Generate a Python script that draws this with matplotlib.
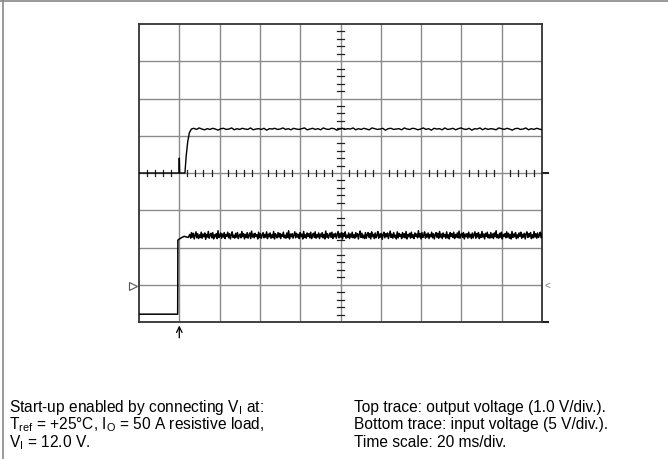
import matplotlib
matplotlib.use("Agg")
import matplotlib.pyplot as plt
from matplotlib.lines import Line2D
import numpy as np

plt.rcParams["font.family"] = ["Liberation Sans", "DejaVu Sans"]
plt.rcParams["mathtext.fontset"] = "custom"
plt.rcParams["mathtext.rm"] = "Liberation Sans"

# screen is 10 x 8 divisions (20 ms/div horizontally)
n_xdiv = 10
n_ydiv = 8

# top trace (output voltage, 1.0 V/div), in divisions
top_edge_t = [0.0, 0.99, 1.0, 1.01, 1.14, 1.17, 1.21, 1.25, 1.30]
top_edge_v = [4.0, 4.0, 4.4, 4.0, 4.0, 4.45, 4.85, 5.08, 5.18]
top_level = 5.18
top_t_end = 10.0
# ripple on the settled output, hundredths of a division
top_ripple = [2, -1, 3, 0, -2, 1, -1, 2, 0, -3, 1, 2, -1, 0, 3, -2, 1, -1, 2, 0,
              -1, 3, -2, 0, 1, -1, 2, -3, 1, 0, 2, -1, 0, 3, -1, 1, -2, 2, 0, -1,
              1, 3, -2, 0, 2, -1, 1, -2, 3, 0, -1, 2, 1, -3, 0, 2, -1, 1, 0, 3,
              -2, 1, -1, 2, 0, -2, 3, 1, -1, 0, 2, -3, 1, 2, -1, 0, 1, -2, 3, 0,
              -1, 2, 1, -2, 0, 3, -1, 1, -3, 2, 0, 1, -2, 3, -1, 0, 2, -2, 1, 3,
              0, -1, 2, -3, 1, 0, 3, -2, 2, -1, 1, 0, -2, 3, 1, -1, 2, 0, -3, 1,
              2, -1, 0, 3, -2, 1, -1, 2, 0, -2]

# bottom trace (input voltage, 5 V/div), in divisions
bottom_edge_t = [0.0, 0.96, 0.965, 0.99, 1.05, 1.12, 1.22]
bottom_edge_v = [0.21, 0.21, 2.2, 2.22, 2.26, 2.3, 2.27]
bottom_level = 2.31
bottom_t_end = 10.0
bottom_ripple = [4, -6, 9, -3, 7, -8, 2, 11, -5, 6, -7, 3, -4, 10, -6, 5, -2, 8, -9, 4,
                 -3, 12, -6, 2, 7, -5, 9, -8, 3, -2, 6, -7, 14, -4, 1, 8, -6, 5, -3, 9,
                 -7, 4, -1, 10, -5, 6, -8, 3, 11, -4, 2, -6, 7, -3, 9, -7, 1, 5, -5, 12,
                 -2, 6, -8, 4, -4, 9, -6, 2, 8, -7, 13, -3, 5, -5, 7, -1, 3, -8, 10, -4,
                 6, -6, 2, 9, -5, 4, -3, 11, -7, 5, -2, 8, -6, 3, -4, 12, -8, 6, 1, -5,
                 9, -3, 7, -7, 4, -1, 10, -5, 2, -6, 8, -4, 14, -8, 5, -2, 6, -6, 3, 11,
                 -5, 7, -3, 4, -7, 9, -2, 5, -8, 12, -4, 3, -6, 8, -1, 6, -5, 10, -7, 2,
                 7, -4, 11, -6, 3, -3, 8, -7, 5, -2, 9, -5, 4, -8, 13, -3, 6, -6, 2, 8,
                 -4, 10, -7, 5, -2, 7, -6, 3, 12, -5, 4, -3, 9, -8, 6, -1, 11, -6, 2, -4,
                 8, -7, 5, -3, 10, -5, 3, -6, 9, -2, 6, -8, 4, 13, -4, 7, -5, 2, -7, 9,
                 -6, 3, 9, -4, 6, -8, 11, -2, 4, -7, 8, -5, 2, 12, -6, 5, -3, 7, -9, 3,
                 10, -5, 6, -2, 8, -7, 3, 13, -4, 5, -6, 9, -3, 2, -8, 11, -5, 7, -1, 4,
                 -7, 9, -3, 6, -5, 12, -8, 4, -2, 7, -6, 10, -4, 3, -7, 8, -1, 5, -5, 14,
                 -3, 6, -8, 9, -4, 2, 11, -6, 5, -3, 8, -7, 4, -2, 10, -5, 6, -8, 3, 9,
                 -4, 7, -6, 12, -3, 5, -7, 8, -2, 4, -6, 11, -5, 3, -8, 9, -1, 6, -4, 10,
                 -7, 4, -3, 8, -5, 13, -6, 2, 7, -4, 9, -8, 5, -2, 6, -6, 10, -3, 4, -7,
                 8, -5, 3, 11, -6, 6, -2, 9, -7, 4, -4, 12, -3, 5, -8, 7, -1, 10, -5, 3,
                 -6, 9, -4, 5, -7, 8, -2, 14, -5, 3, -6, 7, -3, 10, -8, 4, -1, 6, -5, 11,
                 -3, 7, -6, 4, -8, 12, -4, 5, -2, 9, -7, 3, -5, 8, -1, 10, -6, 4, -3, 7,
                 -8, 5, 11, -4, 6, -2, 9, -7, 3, -5, 12, -3, 6, -6, 8, -4, 2, 10, -5, 6]

trigger_t = 1.0
ground_marker = 0.96

left_notes = ["Start-up enabled by connecting V$_\\mathrm{I}$ at:",
              "T$_\\mathrm{ref}$ = +25\u00b0C, I$_\\mathrm{O}$ = 50 A resistive load,",
              "V$_\\mathrm{I}$ = 12.0 V."]
right_notes = ["Top trace: output voltage (1.0 V/div.).",
               "Bottom trace: input voltage (5 V/div.).",
               "Time scale: 20 ms/div."]


fig = plt.figure(figsize=(6.68, 4.59), dpi=100)
W, H = 668, 459
ax = fig.add_axes([139 / W, 1 - 322 / H, 403 / W, 298 / H])
ax.set_xlim(0, n_xdiv)
ax.set_ylim(0, n_ydiv)
ax.set_xticks([])
ax.set_yticks([])
for s in ax.spines.values():
    s.set_color("#333333")
    s.set_linewidth(1.3)

gridc = "#8a8a8a"
for i in range(1, n_xdiv):
    ax.axvline(i, color=gridc, lw=1.0, zorder=1)
for j in range(1, n_ydiv):
    ax.axhline(j, color=gridc, lw=1.0, zorder=1)

# small tick marks along the centre lines
for x in np.arange(0.2, n_xdiv, 0.2):
    if abs(x - round(x)) > 0.05:
        ax.plot([x, x], [n_ydiv / 2 - 0.08, n_ydiv / 2 + 0.08], color="#222222", lw=0.9, zorder=2)
for y in np.arange(0.2, n_ydiv, 0.2):
    if abs(y - round(y)) > 0.05:
        ax.plot([n_xdiv / 2 - 0.075, n_xdiv / 2 + 0.075], [y, y], color="#222222", lw=0.9, zorder=2)

# traces
top_t = np.concatenate([top_edge_t, np.linspace(top_edge_t[-1] + 0.06, top_t_end, len(top_ripple))])
top_v = np.concatenate([top_edge_v, top_level + np.array(top_ripple) / 100.0])
ax.plot(top_t, top_v, color="black", lw=1.0, zorder=3)

bot_t = np.concatenate([bottom_edge_t, np.linspace(bottom_edge_t[-1] + 0.04, bottom_t_end, len(bottom_ripple))])
bot_v = np.concatenate([bottom_edge_v, bottom_level + np.array(bottom_ripple) / 100.0])
ax.plot(bot_t, bot_v, color="black", lw=1.1, zorder=3)

# scope markers
ax.annotate("", xy=(trigger_t, -0.02), xytext=(trigger_t, -0.5),
            arrowprops=dict(arrowstyle="->", color="black", lw=0.9), annotation_clip=False)
ax.plot([-0.15], [ground_marker], marker=">", ms=6, mfc="white", mec="#555555", mew=0.8, clip_on=False)
ax.text(10.05, ground_marker, "<", fontsize=7, color="#777777", va="center", ha="left", clip_on=False)
ax.plot([10.0, 10.15], [4.0, 4.0], color="#222222", lw=1.5, clip_on=False)
ax.plot([10.0, 10.15], [0.0, 0.0], color="#222222", lw=1.5, clip_on=False)

# page frame
fig.add_artist(Line2D([0, 1], [1 - 0.5 / H, 1 - 0.5 / H], color="#888888", lw=1.2))
fig.add_artist(Line2D([3 / W, 3 / W], [0, 1], color="#888888", lw=1.2))

# notes
for k, (lt, rt) in enumerate(zip(left_notes, right_notes)):
    yb = 1 - (412 + 17.5 * k) / H
    fig.text(9 / W, yb, lt, fontsize=11.2, va="baseline", ha="left")
    fig.text(354 / W, yb, rt, fontsize=11.2, va="baseline", ha="left")

fig.savefig("out.png", dpi=100)
